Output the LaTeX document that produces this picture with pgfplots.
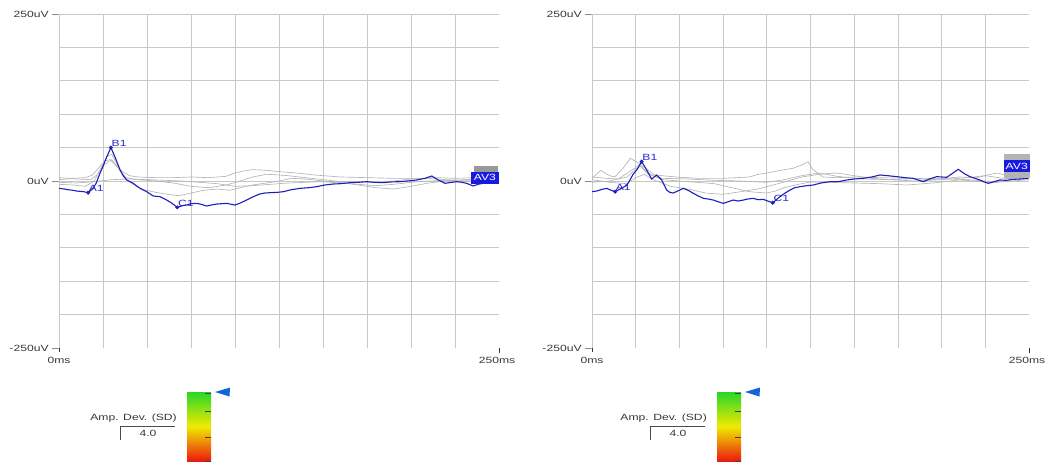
\documentclass[border=0pt]{standalone}
\usepackage{graphicx}
\usepackage{pgfplots}
\pgfplotsset{compat=1.18}
\usepackage{fontspec}
\setmainfont{Liberation Sans}
\definecolor{trace}{RGB}{30,30,185}
\definecolor{lblue}{RGB}{40,40,205}
\definecolor{avblue}{RGB}{25,25,225}
\definecolor{gtrace}{RGB}{180,180,180}
\definecolor{gridc}{RGB}{200,200,200}
\definecolor{txt}{RGB}{55,55,55}
\definecolor{tri}{RGB}{20,100,215}
\definecolor{cbg}{RGB}{40,215,40}
\definecolor{cby}{RGB}{240,235,0}
\definecolor{cbr}{RGB}{235,25,15}
\newcommand{\st}[1]{\scalebox{1.35}[1]{#1}}
\newcommand{\sz}{\fontsize{9}{10}\selectfont}
\pgfplotsset{
  eeg/.style={
    scale only axis, height=334pt, anchor=south west,
    xmin=0, xmax=250, ymin=-250, ymax=250,
    axis line style={draw=none},
    major tick length=0pt,
    xtick={0,25,...,225}, ytick={-200,-150,...,250},
    xticklabels={}, yticklabels={},
    grid=major, major grid style={draw=gridc, line width=0.7pt},
    clip=false,
  },
  gr/.style={draw=gtrace, line width=0.65pt, no markers},
  bl/.style={draw=trace, line width=1.1pt, no markers},
  pk/.style={only marks, mark=*, mark size=1.8pt, color=trace,
    point meta=explicit symbolic, nodes near coords,
    nodes near coords style={anchor=south west, inner sep=0.6pt, font=\sz, text=lblue},
    nodes near coords={\st{\pgfplotspointmeta}}},
}
\begin{document}
\begin{tikzpicture}
\path[use as bounding box] (0pt,0pt) rectangle (1054pt,466pt);
% ================= LEFT PANEL =================
\begin{axis}[eeg, at={(59pt,118pt)}, width=440pt]
\addplot[gr] coordinates {(0,2)(8,4)(15,5)(19,9)(22,18)(26,30)(29,32)(32,24)(36,14)(40,8)(45,6)(55,5)(65,5)(75,6)(85,5)(95,7)(100,12)(105,15)(110,17)(118,16)(125,14)(135,12)(145,9)(160,6)(175,5)(190,4)(205,4)(215,5)(225,4)(235,5)(245,7)(250,6)};
\addplot[gr] coordinates {(0,-5)(8,-6)(15,-8)(20,0)(24,20)(27,36)(30,40)(33,25)(37,5)(42,-5)(48,-13)(55,-17)(62,-20)(68,-22)(75,-18)(82,-14)(90,-12)(97,-14)(103,-10)(110,-6)(118,-3)(125,0)(132,4)(140,3)(150,0)(160,-2)(170,-6)(180,-10)(190,-12)(200,-8)(210,-3)(220,0)(230,2)(240,3)(250,2)};
\addplot[gr] coordinates {(0,5)(10,3)(18,2)(22,10)(26,25)(30,32)(34,18)(38,5)(45,2)(55,0)(65,-3)(75,-8)(85,-10)(95,-6)(103,0)(110,6)(118,10)(125,9)(130,8)(140,5)(150,2)(160,-1)(170,-1)(180,-2)(190,0)(200,3)(210,4)(220,2)(230,1)(240,2)(250,3)};
\addplot[gr] coordinates {(0,-2)(10,-3)(20,-1)(30,2)(40,3)(50,2)(60,1)(70,0)(80,-2)(90,-4)(100,-8)(110,-7)(120,-5)(130,-3)(140,-2)(150,-1)(160,-3)(170,-5)(180,-7)(190,-5)(200,-2)(210,0)(220,1)(230,-1)(240,0)(250,0)};
\addplot[bl] coordinates {(0,-11)(3,-12)(5,-13)(8,-14)(10,-15)(14,-16)(16.5,-17.5)(19,-12)(21,-4)(23.3,11.5)(25,22)(27.1,36)(29.5,50)(31.8,36)(34.7,16.5)(36.5,8)(38.5,1.5)(42.2,-3.5)(46,-11)(49.8,-16)(53.6,-22.5)(57.4,-23.5)(61.2,-28.5)(64,-33)(67.2,-39.5)(70,-37)(72.5,-36)(75,-34)(78.2,-33.5)(81,-35)(83.9,-37.5)(86.5,-36)(89.6,-34.5)(95.3,-33.5)(100,-36)(103,-33)(106.6,-28.5)(110,-24)(114,-19.5)(117,-18)(119.9,-17.5)(124,-17)(127.5,-16)(132,-13)(137,-11)(142,-10)(146.4,-8.5)(151,-6)(155.9,-4.5)(160,-4)(165.3,-2.5)(170,-2)(174.8,-1)(179,-2)(184.3,-2.5)(188,-1.5)(193.8,-1)(198,0)(203.2,1.5)(208,4)(211.8,7.5)(215.5,1.5)(219.3,-3.5)(223,-2)(226,-1)(229,-2)(231.6,-3.5)(235.4,-7.5)(238,-5)(241,-3.5)(245,-2)(249.6,-1)};
\addplot[pk] coordinates {(16.5,-17.5)[A1] (29.5,50)[B1] (67.2,-39.5)[C1]};
% labels
\node[anchor=east, font=\sz, text=txt, inner sep=0pt] at (axis cs:0,250) {\st{250uV –}\hspace{1pt}};
\node[anchor=east, font=\sz, text=txt, inner sep=0pt] at (axis cs:0,0) {\st{0uV –}\hspace{1pt}};
\node[anchor=east, font=\sz, text=txt, inner sep=0pt] at (axis cs:0,-250) {\st{-250uV –}\hspace{1pt}};
\node[anchor=north, font=\sz, text=txt, inner sep=0pt] at ([yshift=-9pt]axis cs:0,-250) {\st{0ms}};
\node[anchor=north, font=\sz, text=txt, inner sep=0pt] at ([yshift=-9pt,xshift=-2pt]axis cs:250,-250) {\st{250ms}};
\draw[txt, line width=0.6pt] (axis cs:0,-250) -- ([yshift=-4pt]axis cs:0,-250);
\draw[txt, line width=0.6pt] (axis cs:250,-250) -- ([yshift=-5pt]axis cs:250,-250);
\fill[gtrace!85!black] ([xshift=-11pt,yshift=6pt]axis cs:242,5) rectangle ([xshift=13pt,yshift=12pt]axis cs:242,5);
\node[fill=avblue, text=white, font=\sz, inner sep=1pt, minimum width=28pt, minimum height=12pt] at (axis cs:242,5) {\st{AV3}};
\end{axis}
% ================= RIGHT PANEL =================
\begin{axis}[eeg, at={(592pt,118pt)}, width=437pt]
\addplot[gr] coordinates {(0,4)(5,16)(10,8)(13,6)(18,20)(22,34)(26,28)(30,20)(36,9)(48,6)(60,4)(75,4)(90,6)(95,10)(100,12)(108,16)(115,19)(120,24)(123.6,29)(126,18)(132,6)(140,5)(150,6)(165,5)(180,4)(195,2)(210,6)(220,5)(228,10)(232,12)(240,6)(250,6)};
\addplot[gr] coordinates {(0,-2)(10,0)(20,6)(25,18)(28,22)(32,12)(40,2)(50,0)(60,-2)(70,-4)(80,-10)(90,-16)(100,-18)(105,-15)(110,-10)(118,-5)(125,-1.5)(135,-2)(150,-3)(165,-4)(180,-6)(195,-3)(210,1.5)(220,0)(228,-3)(240,0)(250,2)};
\addplot[gr] coordinates {(0,2)(10,-2)(20,-4)(25,5)(30,10)(35,2)(45,-8)(55,-12)(65,-18)(75,-20)(85,-16)(95,-12)(105,-5)(112,0)(120,6)(130,10)(140,12)(150,8)(160,4)(170,2)(185,0)(200,2)(215,5)(225,8)(235,4)(250,3)};
\addplot[gr] coordinates {(0,6)(8,4)(15,3)(22,15)(27,24)(32,10)(40,4)(55,3)(70,1)(85,0)(100,-2)(110,2)(120,8)(130,12)(140,7)(155,3)(170,2)(190,4)(205,3)(215,2)(230,-1)(245,3)(250,4)};
\addplot[bl] coordinates {(0,-16)(2.7,-15)(5,-13)(8.4,-11)(11,-14)(13.2,-16)(17,-11)(20,-6)(21.7,1.5)(23.5,10)(25.6,16.5)(28.4,29)(31.3,16.5)(34.1,3)(37,9)(39.9,1.5)(42.7,-13.5)(44.5,-17)(46.5,-18)(49,-15)(52.2,-11)(55,-14)(58,-18.5)(60.5,-22)(63.7,-26)(66.5,-27)(69.4,-28.5)(72,-31)(75.1,-33.5)(78,-31)(80.8,-28.5)(83.5,-30)(86.6,-28.5)(89,-27)(92.3,-26)(95,-28)(98,-27.5)(100.5,-30)(103.4,-32.5)(105.5,-28)(107.5,-23.5)(110.5,-18)(113.3,-13.5)(116,-10)(119,-8.5)(123,-7)(126.6,-6)(131,-3)(136.2,-1)(141,-1)(145.7,1.5)(150,3)(155.2,4)(160,6)(164.8,9)(169,8)(174.3,6.5)(179,5)(183.8,4)(186,2)(189.5,-1)(193,3)(197.2,6.5)(200,6)(202.9,5.5)(206,11)(209.5,17.5)(213,11)(216.2,6.5)(219,4)(221.9,1.5)(224,-1)(226.7,-3.5)(230,-1)(233.4,1.5)(237,1)(241,2.5)(245,3)(249.6,4)};
\addplot[pk] coordinates {(13.2,-16)[A1] (28.4,29)[B1] (103.4,-32.5)[C1]};
\node[anchor=east, font=\sz, text=txt, inner sep=0pt] at (axis cs:0,250) {\st{250uV –}\hspace{1pt}};
\node[anchor=east, font=\sz, text=txt, inner sep=0pt] at (axis cs:0,0) {\st{0uV –}\hspace{1pt}};
\node[anchor=east, font=\sz, text=txt, inner sep=0pt] at (axis cs:0,-250) {\st{-250uV –}\hspace{1pt}};
\node[anchor=north, font=\sz, text=txt, inner sep=0pt] at ([yshift=-9pt]axis cs:0,-250) {\st{0ms}};
\node[anchor=north, font=\sz, text=txt, inner sep=0pt] at ([yshift=-9pt,xshift=-2pt]axis cs:250,-250) {\st{250ms}};
\draw[txt, line width=0.6pt] (axis cs:0,-250) -- ([yshift=-4pt]axis cs:0,-250);
\draw[txt, line width=0.6pt] (axis cs:250,-250) -- ([yshift=-5pt]axis cs:250,-250);
\fill[gtrace] ([xshift=-13pt,yshift=-12pt]axis cs:243,22) rectangle ([xshift=13pt,yshift=12pt]axis cs:243,22);
\node[fill=avblue, text=white, font=\sz, inner sep=1pt, minimum width=26pt, minimum height=12pt] at (axis cs:243,22) {\st{AV3}};
\end{axis}
% ================= COLOUR BARS =================
\begin{scope}[x=1pt,y=1pt]
\foreach \dx in {0,530}{
  \begin{scope}[xshift=\dx pt]
  \shade[top color=cbg, bottom color=cbr, middle color=cby] (187,5) rectangle (211,74);
  \foreach \yy in {73,55,29,5} \draw[black!75, line width=0.8pt] (205,\yy) -- (211,\yy);
  \fill[tri] (215,74) -- (230,78.5) -- (229.5,69.5) -- cycle;
  \node[anchor=east, font=\sz, text=txt, inner sep=0pt] at (177,48) {\st{Amp. Dev. (SD)}};
  \draw[black!70, line width=0.9pt] (120,26) -- (120,40) -- (175,40);
  \node[font=\sz, text=txt, inner sep=0pt] at (148,33) {\st{4.0}};
  \end{scope}
}
\end{scope}
\end{tikzpicture}
\end{document}
